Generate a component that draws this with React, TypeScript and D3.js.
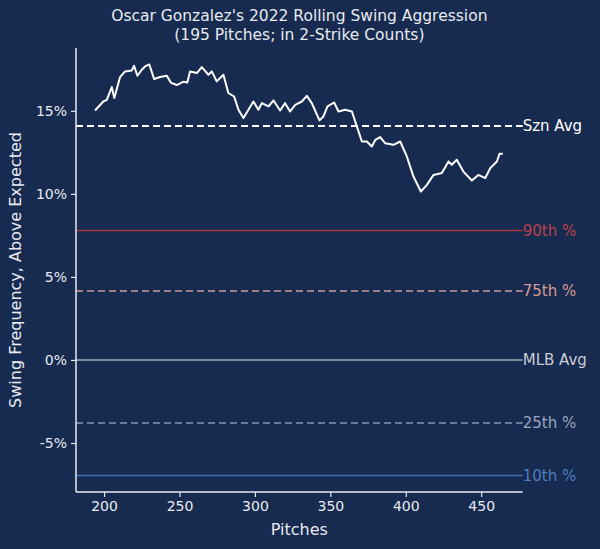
import { useEffect, useRef } from "react"
import * as d3 from "d3"

const pitches = [194.0, 199.5, 201.8, 205.1, 206.8, 210.6, 213.9, 218.4, 219.9, 222.1, 225.0, 227.2, 230.0, 233.2, 237.1, 241.6, 244.2, 248.2, 252.6, 255.2, 257.0, 261.5, 264.8, 269.2, 271.4, 274.7, 279.1, 282.4, 286.2, 289.1, 292.4, 295.7, 299.0, 302.3, 304.6, 309.0, 312.3, 316.7, 320.0, 323.3, 326.7, 331.1, 334.4, 337.7, 342.8, 345.4, 348.1, 352.5, 355.4, 359.8, 364.3, 367.6, 370.9, 374.2, 377.5, 379.8, 383.0, 386.3, 391.8, 396.3, 400.7, 405.1, 410.0, 414.0, 418.4, 423.9, 428.3, 430.5, 433.8, 438.2, 443.8, 448.1, 452.7, 456.0, 460.4, 462.1, 464.3]
const swingAgg = [15.02, 15.56, 15.66, 16.43, 15.77, 17.03, 17.37, 17.43, 17.71, 17.11, 17.47, 17.67, 17.79, 16.91, 17.03, 17.11, 16.7, 16.55, 16.75, 16.7, 17.37, 17.27, 17.63, 17.17, 17.37, 16.77, 17.17, 16.07, 15.86, 15.06, 14.56, 15.06, 15.56, 15.06, 15.46, 15.26, 15.62, 15.02, 15.46, 14.96, 15.36, 15.56, 15.9, 15.46, 14.42, 14.66, 15.26, 15.5, 14.96, 15.06, 14.96, 14.05, 13.15, 13.15, 12.85, 13.25, 13.42, 13.05, 12.95, 13.15, 12.25, 11.04, 10.14, 10.54, 11.14, 11.25, 11.95, 11.75, 12.05, 11.34, 10.8, 11.14, 10.95, 11.55, 11.95, 12.41, 12.41]

const refLabels = ["Szn Avg", "90th %", "75th %", "MLB Avg", "25th %", "10th %"]
const refValues = [14.08, 7.8, 4.15, 0, -3.8, -6.95]
const refColors = ["#ffffff", "#a8353f", "#c99a96", "#a6aab4", "#8896b0", "#3f72b0"]
const refLabelColors = ["#ffffff", "#b9424b", "#d79a93", "#c8ccd4", "#9aa7c0", "#4d7fbd"]
const refDashed = [true, false, true, false, true, false]

const xTicks = [200, 250, 300, 350, 400, 450]
const yTicks = [-5, 0, 5, 10, 15]

const W = 600
const H = 549
const BG = "#172a4f"
const FG = "#e8eaf0"

export default function App() {
  const ref = useRef<SVGSVGElement>(null)

  useEffect(() => {
    if (!ref.current) return
    const svg = d3.select(ref.current)
    svg.selectAll("*").remove()

    const left = 76
    const right = 522.7
    const top = 48
    const bottom = 492

    const x = d3.scaleLinear().domain([181.4, 477.5]).range([left, right])
    const y = d3.scaleLinear().domain([-7.95, 18.78]).range([bottom, top])

    svg.append("rect").attr("width", W).attr("height", H).attr("fill", BG)

    // reference lines
    refValues.forEach((v, i) => {
      svg
        .append("line")
        .attr("x1", left)
        .attr("x2", right)
        .attr("y1", y(v))
        .attr("y2", y(v))
        .attr("stroke", refColors[i])
        .attr("stroke-width", i === 0 ? 2 : 1.5)
        .attr("stroke-dasharray", refDashed[i] ? "7,4" : null)
      svg
        .append("text")
        .attr("x", right)
        .attr("y", y(v))
        .attr("dy", "0.35em")
        .attr("fill", refLabelColors[i])
        .style("font-size", "15px")
        .text(refLabels[i])
    })

    // rolling line
    const line = d3
      .line<number>()
      .x((_, i) => x(pitches[i]))
      .y((d) => y(d))
    svg
      .append("path")
      .datum(swingAgg)
      .attr("d", line)
      .attr("fill", "none")
      .attr("stroke", "#ffffff")
      .attr("stroke-width", 2)
      .attr("stroke-linejoin", "round")

    // axes
    const xAxis = svg
      .append("g")
      .attr("transform", `translate(0,${bottom})`)
      .call(d3.axisBottom(x).tickValues(xTicks).tickSize(5).tickPadding(4))
    const yAxis = svg
      .append("g")
      .attr("transform", `translate(${left},0)`)
      .call(
        d3
          .axisLeft(y)
          .tickValues(yTicks)
          .tickSize(5)
          .tickPadding(4)
          .tickFormat((d) => `${d}%`),
      )
    ;[xAxis, yAxis].forEach((g) => {
      g.select(".domain").attr("stroke", FG).attr("stroke-width", 1.5)
      g.selectAll(".tick line").attr("stroke", FG).attr("stroke-width", 1.2)
      g.selectAll("text").attr("fill", FG).style("font-size", "14px").style("font-family", "DejaVu Sans")
    })
    xAxis.select(".domain").attr("d", `M${left},0H${right}`)
    yAxis.select(".domain").attr("d", `M0,${top}V${bottom}`)

    svg
      .append("text")
      .attr("x", (left + right) / 2)
      .attr("y", 535)
      .attr("text-anchor", "middle")
      .attr("fill", FG)
      .style("font-size", "16px")
      .text("Pitches")

    svg
      .append("text")
      .attr("transform", `translate(21,${(top + bottom) / 2}) rotate(-90)`)
      .attr("text-anchor", "middle")
      .attr("fill", FG)
      .style("font-size", "16px")
      .text("Swing Frequency, Above Expected")

    const title = svg
      .append("text")
      .attr("x", (left + right) / 2)
      .attr("text-anchor", "middle")
      .attr("fill", FG)
      .style("font-size", "15.5px")
    title.append("tspan").attr("x", (left + right) / 2).attr("y", 21).text("Oscar Gonzalez's 2022 Rolling Swing Aggression")
    title.append("tspan").attr("x", (left + right) / 2).attr("y", 40).text("(195 Pitches; in 2-Strike Counts)")
  }, [])

  return (
    <svg
      ref={ref}
      width={W}
      height={H}
      style={{ position: "absolute", left: 0, top: 0, fontFamily: "DejaVu Sans" }}
    />
  )
}
